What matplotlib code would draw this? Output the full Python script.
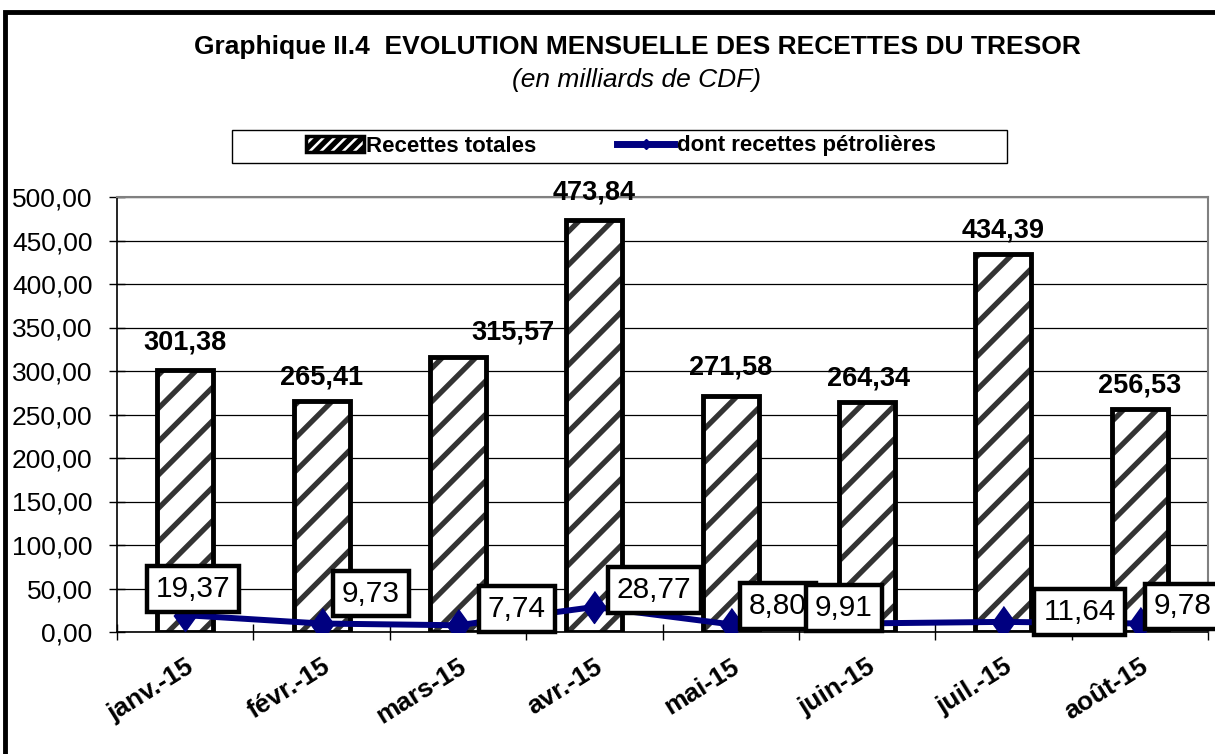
import matplotlib
matplotlib.use("Agg")
import matplotlib.pyplot as plt
from matplotlib.patches import Rectangle
from matplotlib.lines import Line2D

plt.rcParams['font.family'] = ['Liberation Sans', 'DejaVu Sans']
plt.rcParams['hatch.linewidth'] = 3.8

# données (milliards de CDF)
mois = ['janv.-15', 'févr.-15', 'mars-15', 'avr.-15', 'mai-15', 'juin-15', 'juil.-15', 'août-15']
recettes_totales = [301.38, 265.41, 315.57, 473.84, 271.58, 264.34, 434.39, 256.53]
recettes_petrolieres = [19.37, 9.73, 7.74, 28.77, 8.80, 9.91, 11.64, 9.78]

# décalages des étiquettes (en pixels), placés à la main comme dans l'original
decal_barres = [(0, 27), (0, 24), (55, 25), (0, 27), (0, 28), (1, 24), (0, 24), (0, 23)]
decal_ligne = [(8, 26), (49, 30), (59, 16), (60, 17), (47, 18), (-23, 15), (76, 10), (43, 17)]

def fmt(v):
    return f"{v:.2f}".replace('.', ',')

W, H = 1215, 754
fig = plt.figure(figsize=(W / 100, H / 100), dpi=100)
ax = fig.add_axes([117 / W, 1 - 632 / H, (1208 - 117) / W, (632 - 197) / H])

x = list(range(len(mois)))
largeur = 0.41
navy = '#000080'
px = 0.72  # pixels -> points

# barres hachurées + contour épais
ax.bar(x, recettes_totales, width=largeur, color='white', edgecolor='#333333',
       hatch='/', linewidth=0, zorder=2)
ax.bar(x, recettes_totales, width=largeur, fill=False, edgecolor='black',
       linewidth=3.5, zorder=2.5)

for xi, v, (dx, dy) in zip(x, recettes_totales, decal_barres):
    ax.annotate(fmt(v), (xi, v), xytext=(dx * px, dy * px), textcoords='offset points',
                ha='center', va='center', fontsize=19.5, fontweight='bold', zorder=5)

# courbe des recettes pétrolières
ax.plot(x, recettes_petrolieres, color=navy, linewidth=4.3, zorder=3,
        marker=[(0, 1), (0.72, 0), (0, -1), (-0.72, 0)], markersize=23)

for xi, v, (dx, dy) in zip(x, recettes_petrolieres, decal_ligne):
    ax.annotate(fmt(v), (xi, v), xytext=(dx * px, dy * px), textcoords='offset points',
                ha='center', va='center', fontsize=21.5, zorder=6,
                bbox=dict(boxstyle='square,pad=0.3', fc='white', ec='black', lw=3.2))

# axes
ax.set_xlim(-0.5, len(mois) - 0.5)
ax.set_ylim(0, 500)
ax.set_yticks(range(0, 501, 50))
ax.set_yticklabels([fmt(t) for t in range(0, 501, 50)], fontsize=19)
ax.yaxis.grid(True, color='black', linewidth=0.9, zorder=0)
ax.set_axisbelow(True)
ax.tick_params(axis='y', direction='inout', length=11, width=1, pad=12)

ax.set_xticks([i - 0.5 for i in range(len(mois) + 1)])
ax.set_xticklabels([])
ax.set_xticks(x, minor=True)
ax.set_xticklabels(mois, minor=True, rotation=32, ha='right', va='top',
                   rotation_mode='anchor', fontsize=19, fontweight='bold')
ax.tick_params(axis='x', which='major', direction='inout', length=12, width=1)
ax.tick_params(axis='x', which='minor', length=0, pad=16)

for s in ['top', 'right']:
    ax.spines[s].set_color('#808080')
    ax.spines[s].set_linewidth(1.5)
ax.spines['left'].set_linewidth(1.2)
ax.spines['bottom'].set_linewidth(1.2)

# titres
fig.text(637 / W, 1 - 47 / H, "Graphique II.4  EVOLUTION MENSUELLE DES RECETTES DU TRESOR",
         ha='center', va='center', fontsize=19, fontweight='bold')
fig.text(637 / W, 1 - 80 / H, "(en milliards de CDF)", ha='center', va='center',
         fontsize=19, style='italic')

# légende
fig.patches.append(Rectangle((232 / W, 1 - 163 / H), (1007 - 232) / W, 33 / H,
                             transform=fig.transFigure, fill=False, ec='black', lw=1))
h_barre = Rectangle((0, 0), 1, 1, fc='white', ec='black', hatch='///', lw=2.5)
h_ligne = Line2D([], [], color=navy, lw=5, marker='D', markersize=5)
fig.legend([h_barre, h_ligne], ['Recettes totales', 'dont recettes pétrolières'],
           loc='center', bbox_to_anchor=(621 / W, 1 - 146 / H), ncol=2, frameon=False,
           prop={'weight': 'bold', 'size': 16}, handlelength=2.6, handletextpad=0.1,
           columnspacing=3.6)

# cadre extérieur
fig.patches.append(Rectangle((5 / W, -0.2), 1.2, 1.2 - 12 / H, transform=fig.transFigure,
                             fill=False, ec='black', lw=3.5))

fig.savefig('out.png', dpi=100)
